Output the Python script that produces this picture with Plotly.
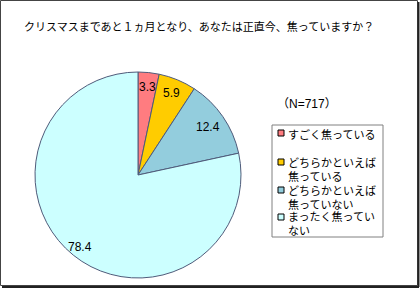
import math
import plotly.graph_objects as go

W, H = 420, 290

labels = ["すごく焦っている", "どちらかといえば焦っている", "どちらかといえば焦っていない", "まったく焦っていない"]
legend_text = ["すごく焦っている", "どちらかといえば<br>焦っている", "どちらかといえば<br>焦っていない", "まったく焦ってい<br>ない"]
values = [3.3, 5.9, 12.4, 78.4]
colors = ["#FF7C80", "#FFCC00", "#93CDDD", "#CCFFFF"]
title = "クリスマスまであと１ヵ月となり、あなたは正直今、焦っていますか？"
note = "（N=717）"

FONT = "Liberation Sans, Arial, Noto Sans CJK JP, sans-serif"

def px(x):
    return x / W

def py(y):
    return 1 - y / H

cx, cy, r = 138, 175, 103
label_frac = [0.86, 0.86, 0.82, 0.9]

fig = go.Figure()
fig.add_trace(go.Pie(
    labels=labels, values=values, sort=False, direction="clockwise", rotation=0,
    marker=dict(colors=colors, line=dict(color="#4F5B7A", width=1)),
    textinfo="none",
    domain=dict(x=[px(cx - r), px(cx + r)], y=[py(cy + r), py(cy - r)]),
    showlegend=False, hoverinfo="label+value",
))

shapes = []
annotations = []
# slice value labels, placed at each slice's mid-angle
total = sum(values)
cum = 0.0
for i, v in enumerate(values):
    mid = (cum + v / 2) / total * 2 * math.pi
    cum += v
    rr = r * label_frac[i]
    lx = cx + rr * math.sin(mid)
    ly = cy - rr * math.cos(mid)
    annotations.append(dict(text=f"{v:.1f}", xref="paper", yref="paper", x=px(lx), y=py(ly),
                            xanchor="center", yanchor="middle", showarrow=False,
                            font=dict(family=FONT, size=12, color="#000000")))

# outer frame
shapes.append(dict(type="rect", xref="paper", yref="paper",
                   x0=px(0.5), x1=px(417.5), y0=py(285.5), y1=py(0.5),
                   line=dict(color="#444444", width=1)))
shapes.append(dict(type="line", xref="paper", yref="paper",
                   x0=px(418.5), x1=px(418.5), y0=py(287), y1=py(2),
                   line=dict(color="#222222", width=2)))
shapes.append(dict(type="line", xref="paper", yref="paper",
                   x0=px(2), x1=px(419), y0=py(287), y1=py(287),
                   line=dict(color="#222222", width=2)))

# title
annotations.append(dict(text=title, xref="paper", yref="paper", x=px(22), y=py(27),
                        xanchor="left", yanchor="middle", showarrow=False,
                        font=dict(family=FONT, size=11, color="#000000")))
# N note
annotations.append(dict(text=note, xref="paper", yref="paper", x=px(307), y=py(104),
                        xanchor="center", yanchor="middle", showarrow=False,
                        font=dict(family=FONT, size=12, color="#000000")))

# legend box
shapes.append(dict(type="rect", xref="paper", yref="paper",
                   x0=px(272), x1=px(383), y0=py(237), y1=py(125),
                   line=dict(color="#808080", width=1), fillcolor="white"))
first_line_y = [133, 162, 190, 217]
for i, (t, c) in enumerate(zip(legend_text, colors)):
    y0 = first_line_y[i]
    shapes.append(dict(type="rect", xref="paper", yref="paper",
                       x0=px(278), x1=px(284), y0=py(y0 + 3), y1=py(y0 - 3),
                       line=dict(color="#000000", width=1), fillcolor=c))
    annotations.append(dict(text=t, xref="paper", yref="paper", x=px(286), y=py(y0 - 7.5),
                            xanchor="left", yanchor="top", align="left", showarrow=False,
                            font=dict(family=FONT, size=11, color="#000000")))

fig.update_layout(width=W, height=H, margin=dict(l=0, r=0, t=0, b=0),
                  paper_bgcolor="white", plot_bgcolor="white",
                  shapes=shapes, annotations=annotations)
fig.write_html("out.html")
